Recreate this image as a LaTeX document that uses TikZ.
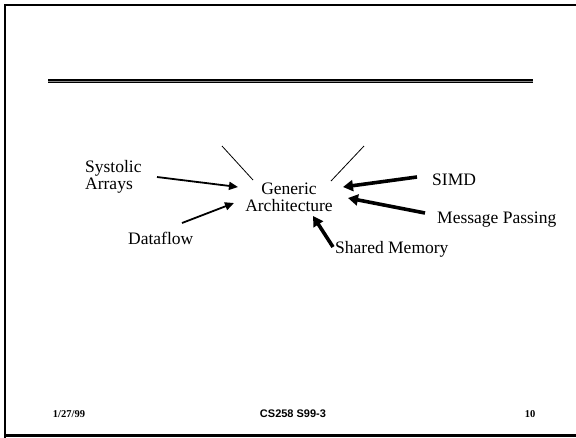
\documentclass[tikz,border=0pt]{standalone}
\usepackage{fontspec}
\setmainfont{Liberation Serif}
\newfontfamily\arialfont{Liberation Sans}
\usetikzlibrary{arrows.meta}
\begin{document}
\begin{tikzpicture}[x=1pt,y=-1pt,
  lbl/.style={inner sep=0pt,font=\fontsize{17.5}{16.5}\selectfont},
  thinarrow/.style={line width=1.8pt,-{Triangle[length=9pt,width=8pt]}},
  thickarrow/.style={line width=3.6pt,-{Triangle[length=10pt,width=11pt]}},
  foot/.style={inner sep=0pt,anchor=base,font=\fontsize{10.5}{10.5}\selectfont\bfseries},
  frameline/.style={line width=2.4pt,black}]
\useasboundingbox (0,0) rectangle (576,437);
% frame
\draw[frameline] (4.7,440) -- (4.7,4.7) -- (580,4.7);
\draw[frameline] (4.7,435.5) -- (580,435.5);
% title rule
\draw[line width=4pt,black!45] (48,81) -- (533,81);
\draw[line width=1.2pt,black] (48,79.9) -- (533,79.9);
\draw[line width=1.2pt,black] (48,82.3) -- (533,82.3);
% labels
\node[lbl,anchor=base west,align=left] (sys) at (85,189) {Systolic\\Arrays};
\node[lbl,anchor=base,align=center] (gen) at (289,211) {Generic\\Architecture};
\node[lbl,anchor=base west] (df) at (128,244) {Dataflow};
\node[lbl,anchor=base west] (simd) at (432,185) {SIMD};
\node[lbl,anchor=base west] (mp) at (437,223) {Message Passing};
\node[lbl,anchor=base west] (sm) at (335,253) {Shared Memory};
% arrow endpoints
\coordinate (sysT) at (157,177);
\coordinate (sysH) at (238,187);
\coordinate (dfT) at (182,223);
\coordinate (dfH) at (234,203);
\coordinate (simdT) at (417,177);
\coordinate (simdH) at (343,187);
\coordinate (mpT) at (425,213);
\coordinate (mpH) at (348,198);
\coordinate (smT) at (333,247);
\coordinate (smH) at (313,216);
\coordinate (la) at (222,146);
\coordinate (lb) at (253,180);
\coordinate (ra) at (364,146);
\coordinate (rb) at (331,181);
% arrows
\draw[thinarrow] (sysT) -- (sysH);
\draw[thinarrow] (dfT) -- (dfH);
\draw[thickarrow] (simdT) -- (simdH);
\draw[thickarrow] (mpT) -- (mpH);
\draw[thickarrow] (smT) -- (smH);
\draw[line width=0.8pt] (la) -- (lb);
\draw[line width=0.8pt] (ra) -- (rb);
% footer
\node[foot] (date) at (69,417) {1/27/99};
\node[foot,font=\fontsize{11}{11}\selectfont\bfseries\arialfont] (course) at (293,417) {CS258 S99-3};
\node[foot] (page) at (530,417) {10};
\end{tikzpicture}
\end{document}
